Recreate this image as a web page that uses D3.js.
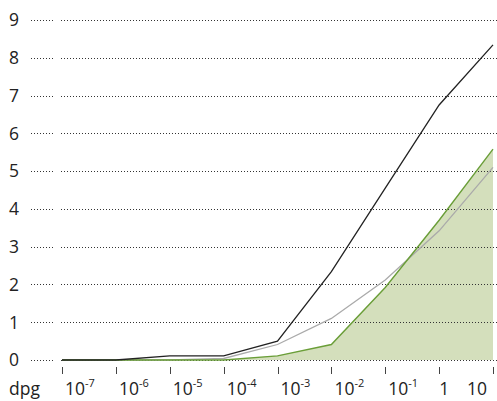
<!DOCTYPE html>
<html lang="en">
<head>
    <meta charset="UTF-8">
    <title>dpg chart</title>
    <style>
        body { margin: 0; background: #fff; }
        text { font-family: "Open Sans", sans-serif; fill: #222; }
    </style>
</head>
<body>
<script src="https://d3js.org/d3.v7.min.js"></script>
<script>

    let w = 497, h = 401;

    // x categories (exponent of 10, '' means plain label)
    let dpgBase = ["10", "10", "10", "10", "10", "10", "10", "1", "10"];
    let dpgExp = ["-7", "-6", "-5", "-4", "-3", "-2", "-1", "", ""];
    let yTicks = [0, 1, 2, 3, 4, 5, 6, 7, 8, 9];

    // series
    let blackVals = [0, 0, 0.11, 0.11, 0.5, 2.34, 4.55, 6.75, 8.34];
    let grayVals = [0, 0, 0, 0.04, 0.41, 1.1, 2.12, 3.42, 5.1];
    let greenVals = [0, 0, 0, 0, 0.11, 0.41, 1.92, 3.7, 5.58];

    let svg = d3.select("body")
        .append("svg")
        .attr("width", w)
        .attr("height", h);

    let idx = d3.range(dpgBase.length);

    let xScale = d3.scalePoint()
        .domain(idx)
        .range([62, 493]);

    let yScale = d3.scaleLinear()
        .domain([0, 9])
        .range([360, 20]);

    // green filled area
    let area = d3.area()
        .x(function (d, i) { return xScale(i); })
        .y0(yScale(0))
        .y1(function (d) { return yScale(d); });

    svg.append("path")
        .attr("d", area(greenVals))
        .attr("fill", "#d4dfbc");

    // dotted grid lines
    let grid = svg.append("g");
    yTicks.forEach(function (t) {
        let y = Math.round(yScale(t)) + 0.5;
        grid.append("line")
            .attr("x1", 31).attr("x2", 53)
            .attr("y1", y).attr("y2", y)
            .attr("stroke", "#333")
            .attr("stroke-width", 1)
            .attr("stroke-dasharray", "1,2");
        grid.append("line")
            .attr("x1", 61).attr("x2", w)
            .attr("y1", y).attr("y2", y)
            .attr("stroke", "#333")
            .attr("stroke-width", 1)
            .attr("stroke-dasharray", "1,2");
        grid.append("text")
            .attr("x", 9)
            .attr("y", yScale(t))
            .attr("dy", "0.36em")
            .style("font-size", "17.5px")
            .text(t);
    });

    let line = d3.line()
        .x(function (d, i) { return xScale(i); })
        .y(function (d) { return yScale(d); });

    svg.append("path")
        .attr("d", line(grayVals))
        .attr("fill", "none")
        .attr("stroke", "#aaaaaa")
        .attr("stroke-width", 1.3);

    svg.append("path")
        .attr("d", line(greenVals))
        .attr("fill", "none")
        .attr("stroke", "#6a9e38")
        .attr("stroke-width", 1.4);

    svg.append("path")
        .attr("d", line(blackVals))
        .attr("fill", "none")
        .attr("stroke", "#222")
        .attr("stroke-width", 1.3);

    // x ticks
    idx.forEach(function (i) {
        let x = Math.round(xScale(i)) + 0.5;
        svg.append("line")
            .attr("x1", x).attr("x2", x)
            .attr("y1", 367).attr("y2", 374)
            .attr("stroke", "#444")
            .attr("stroke-width", 1);
    });

    // x labels
    idx.forEach(function (i) {
        let last = i === idx.length - 1;
        let x = xScale(i) + (last ? -6 : (dpgExp[i] === "" ? 0 : 3));
        let t = svg.append("text")
            .attr("x", x)
            .attr("y", 395)
            .attr("text-anchor", last ? "end" : "start")
            .style("font-size", "17.5px");
        t.append("tspan").text(dpgBase[i]);
        if (dpgExp[i] !== "") {
            t.append("tspan")
                .attr("dy", -8)
                .style("font-size", "11px")
                .text(dpgExp[i]);
        }
    });

    svg.append("text")
        .attr("x", 9)
        .attr("y", 395)
        .style("font-size", "17.5px")
        .text("dpg");

</script>
</body>
</html>
